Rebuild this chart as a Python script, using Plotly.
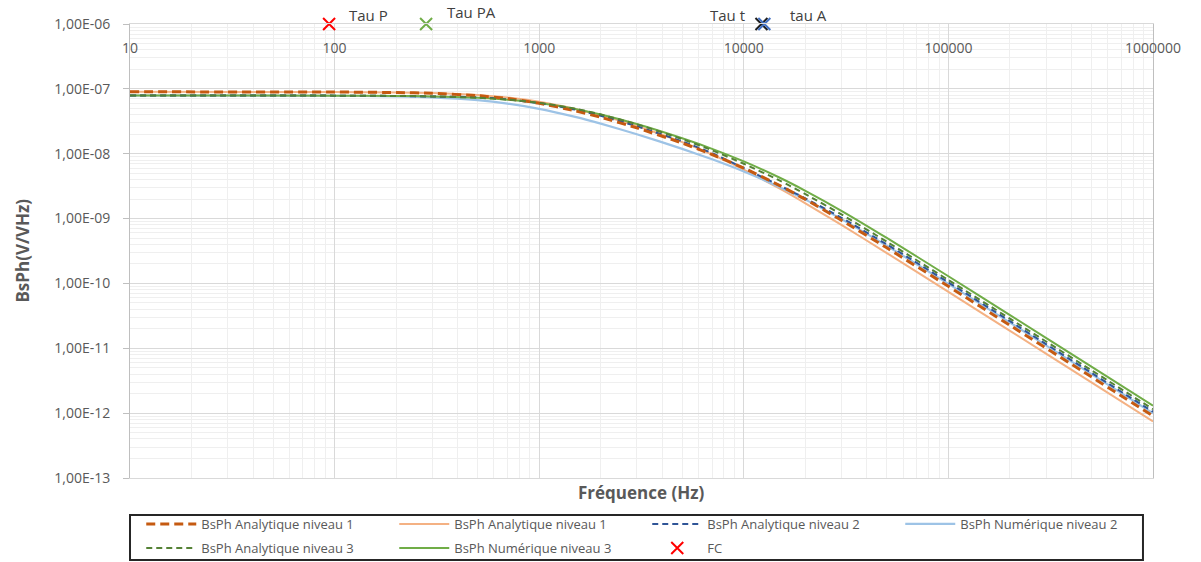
import plotly.graph_objects as go
import math

# ---------------- data ----------------
freq = [10, 100, 200, 300, 500, 700, 1000, 1500, 2000, 3000, 5000, 7000,
        10000, 15000, 20000, 30000, 50000, 100000, 200000, 500000, 1000000]

ana1 = [9.0e-8, 8.94e-8, 8.78e-8, 8.54e-8, 7.86e-8, 7.09e-8, 6.00e-8, 4.59e-8, 3.64e-8,
        2.50e-8, 1.46e-8, 9.73e-9, 6.02e-9, 3.22e-9, 1.98e-9, 9.44e-10, 3.54e-10,
        9.02e-11, 2.26e-11, 3.63e-12, 9.07e-13]
num1 = [9.0e-8, 8.95e-8, 8.82e-8, 8.61e-8, 8.03e-8, 7.35e-8, 6.32e-8, 4.91e-8, 3.91e-8,
        2.68e-8, 1.51e-8, 9.72e-9, 5.71e-9, 2.89e-9, 1.72e-9, 7.98e-10, 2.94e-10,
        7.43e-11, 1.86e-11, 2.98e-12, 7.45e-13]
ana2 = [7.9e-8, 7.87e-8, 7.78e-8, 7.62e-8, 7.45e-8, 6.90e-8, 6.02e-8, 4.80e-8, 3.85e-8,
        2.65e-8, 1.55e-8, 1.02e-8, 6.00e-9, 3.22e-9, 2.05e-9, 1.03e-9, 4.00e-10,
        1.04e-10, 2.62e-11, 4.18e-12, 1.05e-12]
num2 = [7.9e-8, 7.84e-8, 7.66e-8, 7.40e-8, 6.70e-8, 5.94e-8, 4.93e-8, 3.70e-8, 2.91e-8,
        2.00e-8, 1.19e-8, 8.20e-9, 5.32e-9, 3.05e-9, 1.96e-9, 9.81e-10, 3.81e-10,
        9.86e-11, 2.49e-11, 3.99e-12, 9.98e-13]
ana3 = [7.9e-8, 7.87e-8, 7.79e-8, 7.66e-8, 7.30e-8, 6.83e-8, 6.10e-8, 4.95e-8, 4.03e-8,
        2.85e-8, 1.68e-8, 1.13e-8, 7.00e-9, 3.85e-9, 2.38e-9, 1.16e-9, 4.40e-10,
        1.13e-10, 2.86e-11, 4.60e-12, 1.15e-12]
num3 = [7.9e-8, 7.87e-8, 7.79e-8, 7.66e-8, 7.29e-8, 6.81e-8, 6.05e-8, 4.91e-8, 4.02e-8,
        2.87e-8, 1.73e-8, 1.19e-8, 7.61e-9, 4.26e-9, 2.68e-9, 1.32e-9, 5.03e-10,
        1.29e-10, 3.25e-11, 5.21e-12, 1.30e-12]

series_names = ["BsPh Analytique niveau 1", "BsPh Analytique niveau 1",
                "BsPh Analytique niveau 2", "BsPh Numérique niveau 2",
                "BsPh Analytique niveau 3", "BsPh Numérique niveau 3"]

tau_names = ["Tau P", "Tau PA", "Tau t", "tau A"]
tau_freq = [94, 280, 12200, 12600]
tau_level = [1e-6, 1e-6, 1e-6, 1e-6]

x_tick_vals = [10, 100, 1000, 10000, 100000, 1000000]
x_tick_text = ["10", "100", "1000", "10000", "100000", "1000000"]
y_tick_vals = [1e-13, 1e-12, 1e-11, 1e-10, 1e-9, 1e-8, 1e-7, 1e-6]
y_tick_text = ["1,00E-13", "1,00E-12", "1,00E-11", "1,00E-10",
               "1,00E-09", "1,00E-08", "1,00E-07", "1,00E-06"]

# ---------------- styling ----------------
FONT = "Open Sans"
GRAY = "#595959"
c_ana1 = "#C55A11"
c_num1 = "#F4B183"
c_ana2 = "#2F5597"
c_num2 = "#9DC3E6"
c_ana3 = "#548235"
c_num3 = "#70AD47"

fig = go.Figure()

def line(y, name, color, width, dash, rank, legend):
    fig.add_trace(go.Scatter(x=freq, y=y, name=name, mode="lines",
                             line=dict(color=color, width=width, dash=dash, shape="spline", smoothing=0.6),
                             legendrank=rank, legend=legend))

# solids first, dashed on top; row 1 of the legend -> "legend", row 2 -> "legend2"
line(num1, series_names[1], c_num1, 2, "solid", 2, "legend")
line(num2, series_names[3], c_num2, 2.2, "solid", 4, "legend")
line(num3, series_names[5], c_num3, 2, "solid", 6, "legend2")
line(ana2, series_names[2], c_ana2, 2, "6px,4px", 3, "legend")
line(ana1, series_names[0], c_ana1, 3, "9px,5px", 1, "legend")
line(ana3, series_names[4], c_ana3, 2, "6px,4px", 5, "legend2")

tau_colors = ["#FF0000", "#70AD47", "#1F1F1F", "#4472C4"]
fig.add_trace(go.Scatter(x=[tau_freq[0]], y=[tau_level[0]], mode="markers", name="FC",
                         marker=dict(symbol="x-thin", size=12, line=dict(color=tau_colors[0], width=2)),
                         cliponaxis=False, legendrank=7, legend="legend2"))
for i in range(1, 4):
    fig.add_trace(go.Scatter(x=[tau_freq[i]], y=[tau_level[i]], mode="markers", showlegend=False,
                             marker=dict(symbol="x-thin", size=12, line=dict(color=tau_colors[i], width=2)),
                             cliponaxis=False))

label_cfg = [("left", 18, 9), ("left", 19, 12), ("right", -14, 9), ("left", 24, 9)]
for i, (anchor, xs, ys) in enumerate(label_cfg):
    fig.add_annotation(x=math.log10(tau_freq[i]), y=math.log10(tau_level[i]), xref="x", yref="y",
                       text=tau_names[i], showarrow=False, xanchor=anchor, yanchor="middle",
                       xshift=xs, yshift=ys, font=dict(family=FONT, size=15, color="#404040"))

fig.add_annotation(x=0.5, y=-0.033, xref="paper", yref="paper", text="<b>Fréquence (Hz)</b>",
                   showarrow=False, xanchor="center", yanchor="middle",
                   font=dict(family=FONT, size=17, color=GRAY))
fig.add_annotation(x=-0.106, y=0.5, xref="paper", yref="paper", text="<b>BsPh(V/VHz)</b>",
                   showarrow=False, xanchor="center", yanchor="middle", textangle=-90,
                   font=dict(family=FONT, size=17, color=GRAY))

# legend frame
fig.add_shape(type="rect", xref="paper", yref="paper", x0=0, x1=0.9902, y0=-0.0815, y1=-0.1806,
              line=dict(color="#262626", width=2), fillcolor="rgba(0,0,0,0)", layer="above")

minor_x = [m * 10 ** e for e in range(1, 6) for m in range(2, 10)]
minor_y = [m * 10.0 ** e for e in range(-13, -6) for m in range(2, 10)]

fig.update_xaxes(type="log", range=[1, 6], side="top", automargin=False,
                 tickvals=x_tick_vals, ticktext=x_tick_text,
                 ticklabelposition="inside", ticklabeloverflow="allow", ticklabelstandoff=19,
                 tickfont=dict(family=FONT, size=14, color=GRAY), ticks="",
                 showgrid=True, gridcolor="#D9D9D9", gridwidth=1,
                 showline=True, linecolor="#D9D9D9", linewidth=1, mirror=True,
                 minor=dict(tickvals=minor_x, showgrid=True, gridcolor="#EFEFEF", gridwidth=1, ticks=""),
                 zeroline=False)
fig.update_yaxes(type="log", range=[-13, -5.9995], automargin=False,
                 tickvals=y_tick_vals, ticktext=y_tick_text,
                 tickfont=dict(family=FONT, size=14, color=GRAY),
                 ticks="outside", ticklen=6, tickcolor="#BFBFBF", ticklabelstandoff=10,
                 showgrid=True, gridcolor="#D9D9D9", gridwidth=1,
                 showline=True, linecolor="#BFBFBF", linewidth=1, mirror=True,
                 minor=dict(tickvals=minor_y, showgrid=True, gridcolor="#EFEFEF", gridwidth=1, ticks=""),
                 zeroline=False)

leg_common = dict(orientation="h", xanchor="left", yanchor="middle",
                  entrywidth=188, itemwidth=50, traceorder="normal",
                  bgcolor="rgba(0,0,0,0)", borderwidth=0,
                  font=dict(family=FONT, size=13, color=GRAY))

fig.update_layout(
    width=1201, height=562,
    margin=dict(l=130, r=48, t=24, b=84, autoexpand=False),
    paper_bgcolor="white", plot_bgcolor="white",
    font=dict(family=FONT, color=GRAY),
    legend=dict(x=0.011, y=-0.1013, **leg_common),
    legend2=dict(x=0.011, y=-0.1542, **leg_common),
    showlegend=True,
)

fig.write_html("out.html", config={"displayModeBar": False},
               post_script="document.body.style.margin='0px';")
